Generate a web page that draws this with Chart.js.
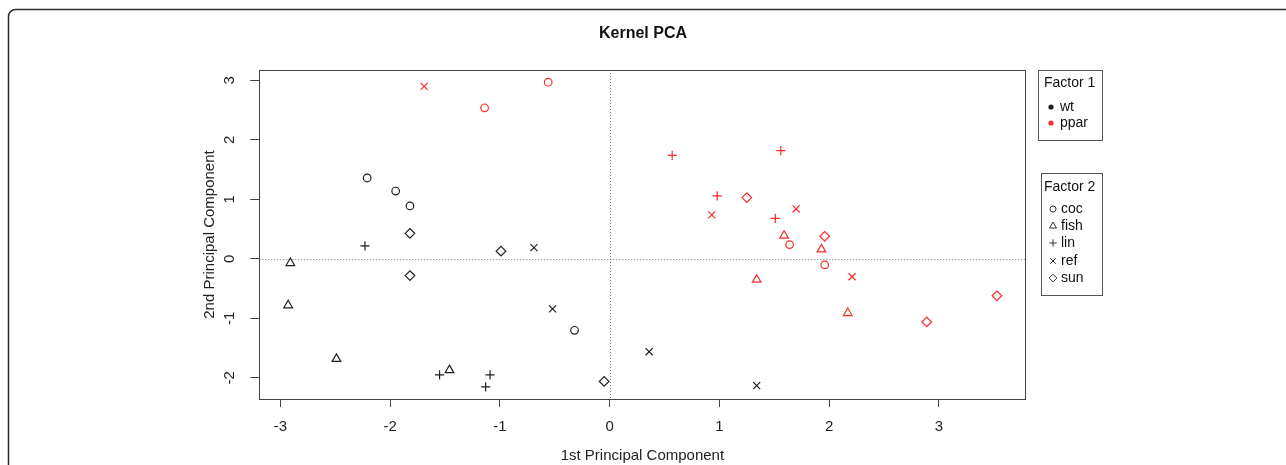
<!DOCTYPE html>
<html>
<head>
<meta charset="utf-8">
<script src="https://cdn.jsdelivr.net/npm/chart.js@4.4.0/dist/chart.umd.min.js"></script>
<style>
  html, body { margin: 0; padding: 0; background: #fff; }
  #wrap { position: relative; width: 1286px; height: 465px; }
</style>
</head>
<body>
<div id="wrap"><canvas id="kpca" width="1286" height="465"></canvas></div>
<script>
const factor1 = ['wt', 'ppar'];
const factor2 = ['coc', 'fish', 'lin', 'ref', 'sun'];
const xTicks = [-3, -2, -1, 0, 1, 2, 3];
const yTicks = [-2, -1, 0, 1, 2, 3];

// wt samples  [1st PC, 2nd PC]
const wtCoc  = [[-2.21, 1.36], [-1.95, 1.14], [-1.82, 0.89], [-0.32, -1.20]];
const wtFish = [[-2.91, -0.07], [-2.93, -0.78], [-2.49, -1.68], [-1.46, -1.87]];
const wtLin  = [[-2.23, 0.22], [-1.55, -1.95], [-1.09, -1.95], [-1.13, -2.15]];
const wtRef  = [[-0.69, 0.19], [-0.52, -0.84], [0.36, -1.56], [1.34, -2.13]];
const wtSun  = [[-1.82, 0.43], [-0.99, 0.13], [-1.82, -0.28], [-0.05, -2.06]];
// ppar samples
const pparCoc  = [[-1.14, 2.54], [-0.56, 2.97], [1.64, 0.24], [1.96, -0.10]];
const pparFish = [[1.59, 0.39], [1.93, 0.16], [1.34, -0.35], [2.17, -0.91]];
const pparLin  = [[0.57, 1.74], [1.56, 1.82], [0.98, 1.06], [1.51, 0.68]];
const pparRef  = [[-1.69, 2.90], [0.93, 0.74], [1.70, 0.84], [2.21, -0.30]];
const pparSun  = [[1.25, 1.03], [1.96, 0.38], [3.53, -0.62], [2.89, -1.06]];

const groups = {
  wt:   [wtCoc, wtFish, wtLin, wtRef, wtSun],
  ppar: [pparCoc, pparFish, pparLin, pparRef, pparSun]
};

const COLORS = { wt: '#1e1e1e', ppar: '#ff2a2a' };
const SHAPES = ['circle', 'triangle', 'cross', 'crossRot', 'rectRot'];
const SIZES = [3.8, 5, 4.6, 5, 4.8];
const FONT = '"Liberation Sans", Arial, Helvetica, sans-serif';

const datasets = [];
factor1.forEach(f1 => {
  groups[f1].forEach((pts, i) => {
    datasets.push({
      label: f1 + ' ' + factor2[i],
      data: pts.map(p => ({ x: p[0], y: p[1] })),
      pointStyle: SHAPES[i],
      pointRadius: SIZES[i],
      pointBorderWidth: 1.2,
      borderColor: COLORS[f1],
      backgroundColor: 'rgba(0,0,0,0)',
      showLine: false
    });
  });
});

// box, zero lines, legends and the outer frame
const decor = {
  id: 'decor',
  beforeDraw(c) {
    const ctx = c.ctx;
    ctx.save();
    ctx.fillStyle = '#fff';
    ctx.fillRect(0, 0, c.width, c.height);
    ctx.restore();
  },
  beforeDatasetsDraw(c) {
    const { ctx, chartArea: a, scales: { x, y } } = c;
    ctx.save();
    ctx.strokeStyle = '#777';
    ctx.lineWidth = 1;
    ctx.setLineDash([1, 2]);
    const x0 = Math.round(x.getPixelForValue(0)) + 0.5;
    const y0 = Math.round(y.getPixelForValue(0)) + 0.5;
    ctx.beginPath();
    ctx.moveTo(x0, a.top); ctx.lineTo(x0, a.bottom);
    ctx.moveTo(a.left, y0); ctx.lineTo(a.right, y0);
    ctx.stroke();
    ctx.setLineDash([]);
    ctx.strokeStyle = '#444';
    ctx.strokeRect(Math.round(a.left) + 0.5, Math.round(a.top) + 0.5,
      Math.round(a.right - a.left), Math.round(a.bottom - a.top));
    ctx.restore();
  },
  afterDraw(c) {
    const ctx = c.ctx;
    ctx.save();
    // outer figure frame
    ctx.strokeStyle = '#2a2a2a';
    ctx.lineWidth = 1.5;
    ctx.beginPath();
    ctx.moveTo(8.5, 465);
    ctx.lineTo(8.5, 17);
    ctx.arcTo(8.5, 9.5, 16, 9.5, 7);
    ctx.lineTo(1286, 9.5);
    ctx.stroke();

    ctx.font = '14px ' + FONT;
    ctx.fillStyle = '#111';
    ctx.textBaseline = 'middle';
    ctx.textAlign = 'left';
    ctx.strokeStyle = '#555';
    ctx.lineWidth = 1;

    // Factor 1
    ctx.strokeRect(1038.5, 70.5, 64, 70);
    ctx.fillText('Factor 1', 1044, 83);
    const f1y = [107, 123];
    factor1.forEach((f, i) => {
      ctx.fillStyle = COLORS[f];
      ctx.beginPath();
      ctx.arc(1051, f1y[i], 2.6, 0, Math.PI * 2);
      ctx.fill();
      ctx.fillStyle = '#111';
      ctx.fillText(f, 1060, f1y[i]);
    });

    // Factor 2
    ctx.strokeStyle = '#555';
    ctx.strokeRect(1041.5, 173.5, 61, 122);
    ctx.fillText('Factor 2', 1044, 187);
    const f2y = [209, 226, 243, 261, 278];
    factor2.forEach((f, i) => {
      ctx.strokeStyle = '#333';
      ctx.fillStyle = 'rgba(0,0,0,0)';
      ctx.lineWidth = 1;
      Chart.helpers.drawPoint(ctx, {
        pointStyle: SHAPES[i], radius: SIZES[i] * 0.8, borderWidth: 1
      }, 1053, f2y[i]);
      ctx.fillStyle = '#111';
      ctx.fillText(f, 1061, f2y[i]);
    });
    ctx.restore();
  }
};

new Chart(document.getElementById('kpca'), {
  type: 'scatter',
  data: { datasets },
  plugins: [decor],
  options: {
    responsive: false,
    animation: false,
    events: [],
    layout: { padding: 0 },
    plugins: {
      legend: { display: false },
      tooltip: { enabled: false },
      title: {
        display: true,
        text: 'Kernel PCA',
        color: '#111',
        font: { family: FONT, size: 16, weight: 'bold' },
        padding: { top: 24.4, bottom: 26.4 }
      }
    },
    scales: {
      x: {
        type: 'linear',
        position: 'bottom',
        min: -3.193,
        max: 3.79,
        afterBuildTicks: s => { s.ticks = xTicks.map(v => ({ value: v })); },
        afterFit: s => { s.height = 66; },
        grid: { drawOnChartArea: false, drawTicks: true, tickLength: 8, color: '#444' },
        border: { display: true, color: '#444' },
        ticks: { color: '#222', padding: 11, maxRotation: 0, font: { family: FONT, size: 15 } },
        title: {
          display: true,
          text: '1st Principal Component',
          color: '#222',
          padding: { top: 0, bottom: 0 },
          font: { family: FONT, size: 15 }
        }
      },
      y: {
        type: 'linear',
        position: 'left',
        min: -2.355,
        max: 3.175,
        afterBuildTicks: s => { s.ticks = yTicks.map(v => ({ value: v })); },
        afterFit: s => { s.width = 259.3; },
        grid: { drawOnChartArea: false, drawTicks: true, tickLength: 9, color: '#444' },
        border: { display: true, color: '#444' },
        ticks: {
          color: '#222', padding: 13.5, minRotation: 90, maxRotation: 90,
          crossAlign: 'center', font: { family: FONT, size: 15 }
        },
        title: {
          display: true,
          text: '2nd Principal Component',
          color: '#222',
          padding: { top: 201, bottom: 0 },
          font: { family: FONT, size: 15 }
        }
      },
      // empty right-hand axis that only reserves the room for the legends
      yRight: {
        type: 'linear',
        position: 'right',
        display: true,
        afterFit: s => { s.width = 260.5; },
        grid: { display: false },
        border: { display: false },
        ticks: { display: false }
      }
    }
  }
});
</script>
</body>
</html>
